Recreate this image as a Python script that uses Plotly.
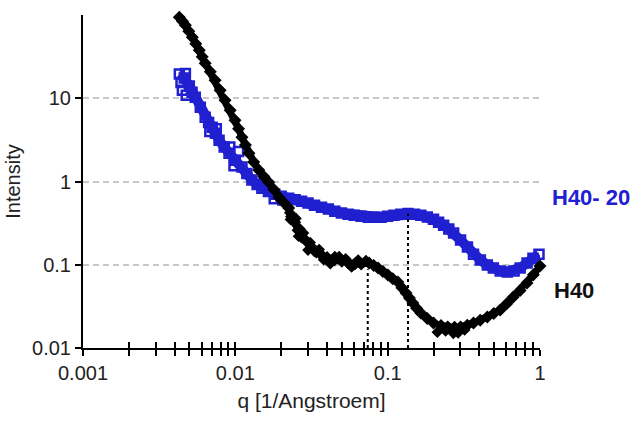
import plotly.graph_objects as go

# ---- data ----
h40_q = [0.00429, 0.00450, 0.00470, 0.00495, 0.00522, 0.00550, 0.00580, 0.00606, 0.00634, 0.00685,
         0.00737, 0.00795, 0.00856, 0.00925, 0.00995, 0.01050, 0.01105, 0.01165, 0.01228, 0.01320,
         0.01425, 0.01540, 0.01658, 0.01790, 0.01928, 0.0208, 0.0224, 0.0234, 0.0245, 0.0258,
         0.0272, 0.0290, 0.0316, 0.0340, 0.0367, 0.0400, 0.0447, 0.0500, 0.0551, 0.0610,
         0.0670, 0.0755, 0.0810, 0.0865, 0.093, 0.1004, 0.108, 0.1167, 0.124, 0.1319,
         0.139, 0.1463, 0.155, 0.165, 0.182, 0.200, 0.224, 0.248, 0.275, 0.301,
         0.333, 0.366, 0.405, 0.451, 0.497, 0.548, 0.605, 0.667, 0.740, 0.822, 0.905, 1.0]
h40_i = [93.8, 84.0, 75.2, 64.0, 54.0, 45.0, 37.7, 31.5, 26.3, 20.8,
         16.4, 12.5, 9.46, 7.2, 5.45, 4.3, 3.40, 2.75, 2.19, 1.72,
         1.37, 1.15, 0.98, 0.80, 0.649, 0.56, 0.479, 0.38, 0.325, 0.26,
         0.215, 0.195, 0.163, 0.142, 0.131, 0.122, 0.114, 0.110, 0.105, 0.103,
         0.102, 0.105, 0.098, 0.0912, 0.083, 0.0752, 0.068, 0.0619, 0.053, 0.0457,
         0.040, 0.0347, 0.030, 0.0263, 0.0226, 0.0200, 0.0186, 0.0179, 0.0177, 0.0179,
         0.0187, 0.0200, 0.0216, 0.0236, 0.026, 0.0286, 0.034, 0.0409, 0.049, 0.0603, 0.076, 0.0964]
# scattered H40 points off the main band
h40_scatter_q = [0.0228, 0.0250, 0.0265, 0.0280, 0.0300, 0.0330, 0.0355, 0.0420, 0.0480, 0.0580,
                 0.0640, 0.0720, 0.0230, 0.212, 0.240, 0.290, 0.320, 0.270, 0.0260, 0.0310,
                 0.0380, 0.0450, 0.0530]
h40_scatter_i = [0.42, 0.36, 0.27, 0.24, 0.15, 0.145, 0.152, 0.103, 0.125, 0.094,
                 0.114, 0.112, 0.35, 0.0155, 0.0160, 0.0152, 0.0165, 0.0150, 0.22, 0.185,
                 0.115, 0.125, 0.118]

h4020_q = [0.00429, 0.00462, 0.00499, 0.00546, 0.00589, 0.00634, 0.00668, 0.00705, 0.00740, 0.00782,
           0.00845, 0.00909, 0.0100, 0.01105, 0.0119, 0.01284, 0.0139, 0.01493, 0.0165, 0.01814,
           0.0200, 0.0224, 0.0247, 0.0272, 0.0300, 0.0331, 0.0368, 0.0408, 0.0450, 0.0497,
           0.0550, 0.0603, 0.0670, 0.0745, 0.0820, 0.0906, 0.100, 0.110, 0.122, 0.136,
           0.150, 0.165, 0.182, 0.200, 0.216, 0.233, 0.252, 0.271, 0.301, 0.334,
           0.366, 0.406, 0.451, 0.494, 0.548, 0.610, 0.676, 0.741, 0.822, 0.899, 0.985]
h4020_i = [19.5, 17.5, 14.0, 10.3, 7.80, 5.92, 5.1, 4.49, 3.8, 3.13,
           2.6, 2.19, 1.80, 1.49, 1.25, 1.04, 0.92, 0.832, 0.76, 0.705,
           0.665, 0.631, 0.605, 0.581, 0.55, 0.520, 0.492, 0.466, 0.44, 0.417,
           0.405, 0.394, 0.383, 0.373, 0.372, 0.373, 0.383, 0.394, 0.405, 0.412,
           0.405, 0.394, 0.375, 0.353, 0.325, 0.299, 0.268, 0.240, 0.198, 0.163,
           0.134, 0.114, 0.0991, 0.0912, 0.0839, 0.0817, 0.0839, 0.0912, 0.105, 0.120, 0.134]
h4020_scatter_q = [0.00440, 0.00449, 0.00476, 0.00520, 0.00470, 0.00680, 0.00750, 0.00920, 0.0098, 0.0105,
                   0.0155, 0.0180, 0.0205]
h4020_scatter_i = [15.5, 12.5, 10.9, 11.8, 19.8, 4.0, 4.3, 2.6, 1.55, 2.3,
                   0.95, 0.62, 0.60]

# dotted markers of the two maxima
mark_q = [0.074, 0.136]
mark_i = [0.088, 0.41]

x_tick_vals = [0.001, 0.01, 0.1, 1]
x_tick_text = ["0.001", "0.01", "0.1", "1"]
y_tick_vals = [0.01, 0.1, 1, 10]
y_tick_text = ["0.01", "0.1", "1", "10"]

BLUE = "#2020d0"
FONT = "Liberation Sans, Arial, sans-serif"

fig = go.Figure()

# blue series (H40-20)
fig.add_trace(go.Scatter(x=h4020_q, y=h4020_i, mode="lines+markers", cliponaxis=False,
                         line=dict(color=BLUE, width=10),
                         marker=dict(symbol="square-open", size=9, color=BLUE, line=dict(width=2.5, color=BLUE)),
                         showlegend=False, hoverinfo="skip"))
fig.add_trace(go.Scatter(x=h4020_scatter_q, y=h4020_scatter_i, mode="markers", cliponaxis=False,
                         marker=dict(symbol="square-open", size=9, color=BLUE, line=dict(width=2.5, color=BLUE)),
                         showlegend=False, hoverinfo="skip"))

# black series (H40)
fig.add_trace(go.Scatter(x=h40_q, y=h40_i, mode="lines+markers", cliponaxis=False,
                         line=dict(color="black", width=7),
                         marker=dict(symbol="diamond", size=10, color="black"),
                         showlegend=False, hoverinfo="skip"))
fig.add_trace(go.Scatter(x=h40_scatter_q, y=h40_scatter_i, mode="markers", cliponaxis=False,
                         marker=dict(symbol="diamond", size=9, color="black"),
                         showlegend=False, hoverinfo="skip"))

# dotted vertical markers, drawn on the overlay x axis
for q, i in zip(mark_q, mark_i):
    fig.add_trace(go.Scatter(x=[q, q], y=[y_tick_vals[0], i], mode="lines", xaxis="x2",
                             line=dict(color="black", width=2, dash="dot"),
                             showlegend=False, hoverinfo="skip"))

axis_font = dict(family=FONT, size=20, color="#222222")

fig.update_layout(
    width=634, height=427,
    margin=dict(l=80, r=94, t=15, b=79),
    paper_bgcolor="white", plot_bgcolor="white",
    xaxis=dict(type="log", range=[-3, 0], tickvals=x_tick_vals, ticktext=x_tick_text,
               ticks="outside", ticklen=6, tickwidth=2, tickcolor="black",
               minor=dict(dtick="D1", ticks="outside", ticklen=6, tickwidth=2, tickcolor="black", showgrid=False),
               showline=True, linecolor="black", linewidth=2, showgrid=False, zeroline=False,
               tickfont=axis_font,
               title=dict(text="q [1/Angstroem]", font=dict(family=FONT, size=21, color="#222222"), standoff=10)),
    xaxis2=dict(type="log", range=[-3, 0], overlaying="x", side="bottom",
                tickvals=x_tick_vals, showticklabels=False,
                ticks="inside", ticklen=6, tickwidth=2, tickcolor="black",
                minor=dict(dtick="D1", ticks="inside", ticklen=6, tickwidth=2, tickcolor="black", showgrid=False),
                showline=False, showgrid=False, zeroline=False),
    yaxis=dict(type="log", range=[-2, 2], tickvals=y_tick_vals, ticktext=y_tick_text,
               ticks="outside", ticklen=6, tickwidth=2, tickcolor="black",
               showline=True, linecolor="black", linewidth=2,
               showgrid=True, gridcolor="#c8c8c8", gridwidth=1.5, griddash="6px,4px",
               zeroline=False, tickfont=axis_font,
               title=dict(text="Intensity", font=dict(family=FONT, size=20, color="#222222"), standoff=6)),
    annotations=[
        dict(text="<b>H40- 20</b>", x=1.022, y=0.453, xref="paper", yref="paper", showarrow=False,
             xanchor="left", yanchor="middle", font=dict(family=FONT, size=22, color=BLUE)),
        dict(text="<b>H40</b>", x=1.026, y=0.174, xref="paper", yref="paper", showarrow=False,
             xanchor="left", yanchor="middle", font=dict(family=FONT, size=22, color="#111111")),
    ],
)

fig.write_html("out.html")
